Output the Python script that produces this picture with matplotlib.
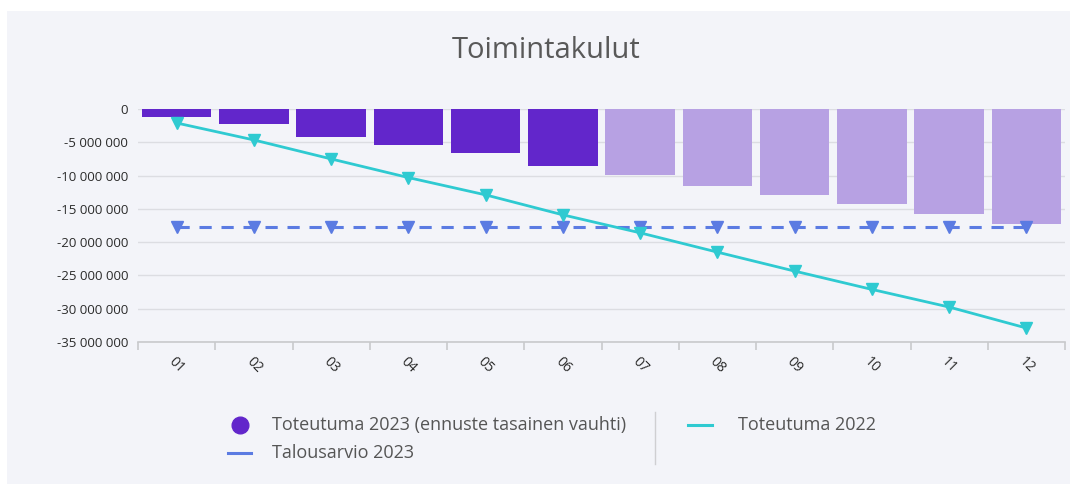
import matplotlib
matplotlib.use("Agg")
import matplotlib.pyplot as plt
from matplotlib.patches import Rectangle
from matplotlib.lines import Line2D
from matplotlib.ticker import FuncFormatter
import numpy as np

plt.rcParams['font.family'] = ['Open Sans', 'DejaVu Sans']

months = ["01", "02", "03", "04", "05", "06", "07", "08", "09", "10", "11", "12"]
toteutuma_2023 = [-1.25e6, -2.3e6, -4.25e6, -5.4e6, -6.6e6, -8.5e6,
                  -9.9e6, -11.5e6, -12.9e6, -14.3e6, -15.7e6, -17.2e6]
forecast_flags = [False]*6 + [True]*6
talousarvio_2023 = [-17.75e6]*12
toteutuma_2022 = [-2.1e6, -4.65e6, -7.5e6, -10.3e6, -12.9e6, -15.9e6,
                  -18.6e6, -21.5e6, -24.35e6, -27.1e6, -29.75e6, -32.9e6]
yticks = [0, -5e6, -10e6, -15e6, -20e6, -25e6, -30e6, -35e6]

BG = "#f3f4f9"
DARK = "#6226cb"
LIGHT = "#b7a1e3"
CYAN = "#2fcad1"
BLUE = "#5b7be2"

fig = plt.figure(figsize=(10.75, 4.86), dpi=100)
fig.patch.set_facecolor("white")
fig.patches.append(Rectangle((7/1075, 1-484/486), (1070-7)/1075, (484-11)/486,
                             transform=fig.transFigure, facecolor=BG, edgecolor="none", zorder=-10))

ax = fig.add_axes([138/1075, 1-342/486, (1065-138)/1075, (342-109)/486])
ax.set_facecolor(BG)
x = np.arange(len(months))
colors = [LIGHT if f else DARK for f in forecast_flags]
ax.bar(x, toteutuma_2023, width=0.9, color=colors, zorder=2)
ax.plot(x, talousarvio_2023, color=BLUE, lw=2.2, ls=(0, (4, 3.2)), marker='v',
        markersize=8, zorder=3)
ax.plot(x, toteutuma_2022, color=CYAN, lw=2, marker='v', markersize=8, zorder=4)

ax.set_xlim(-0.5, 11.5)
ax.set_ylim(-35e6, 0)
ax.set_yticks(yticks)
ax.yaxis.set_major_formatter(FuncFormatter(lambda v, p: f"{int(v):,}".replace(",", " ")))
ax.grid(axis='y', color="#dcdde2", lw=1, zorder=0)
ax.set_axisbelow(True)
for s in ["top", "right", "left"]:
    ax.spines[s].set_visible(False)
ax.spines["bottom"].set_color("#c8c9cc")
ax.spines["bottom"].set_linewidth(1.2)
ax.tick_params(axis='y', length=0, labelsize=9.5, labelcolor="#2b2b2b", pad=7)
ax.set_xticks(x)
ax.set_xticklabels(months, rotation=-45, ha='center', va='top',
                   fontsize=10, color="#2b2b2b")
ax.tick_params(axis='x', length=0, pad=9)
ax.set_xticks(np.arange(-0.5, 12, 1), minor=True)
ax.tick_params(axis='x', which='minor', length=6, color="#c8c9cc", width=1.2)

fig.text(546/1075, 1-50/486, "Toimintakulut", ha='center', va='center',
         fontsize=21, color="#595959")

# legend
def fx(px):
    return px / 1075
def fy(py):
    return 1 - py / 486

fig.lines.append(Line2D([fx(240)], [fy(425)], marker='o', markersize=12, color=DARK,
                        transform=fig.transFigure, linestyle='none'))
fig.text(fx(272), fy(425), "Toteutuma 2023 (ennuste tasainen vauhti)", ha='left', va='center',
         fontsize=13, color="#555555")
fig.lines.append(Line2D([fx(228), fx(251)], [fy(453), fy(453)], color=BLUE, lw=2.2,
                        transform=fig.transFigure))
fig.text(fx(272), fy(453), "Talousarvio 2023", ha='left', va='center',
         fontsize=13, color="#555555")
fig.lines.append(Line2D([fx(655), fx(655)], [fy(412), fy(464)], color="#cfcfd2", lw=1,
                        transform=fig.transFigure))
fig.lines.append(Line2D([fx(688), fx(712)], [fy(425), fy(425)], color=CYAN, lw=2.2,
                        transform=fig.transFigure))
fig.text(fx(738), fy(425), "Toteutuma 2022", ha='left', va='center',
         fontsize=13, color="#555555")

fig.savefig("out.png", dpi=100, facecolor=fig.get_facecolor())
